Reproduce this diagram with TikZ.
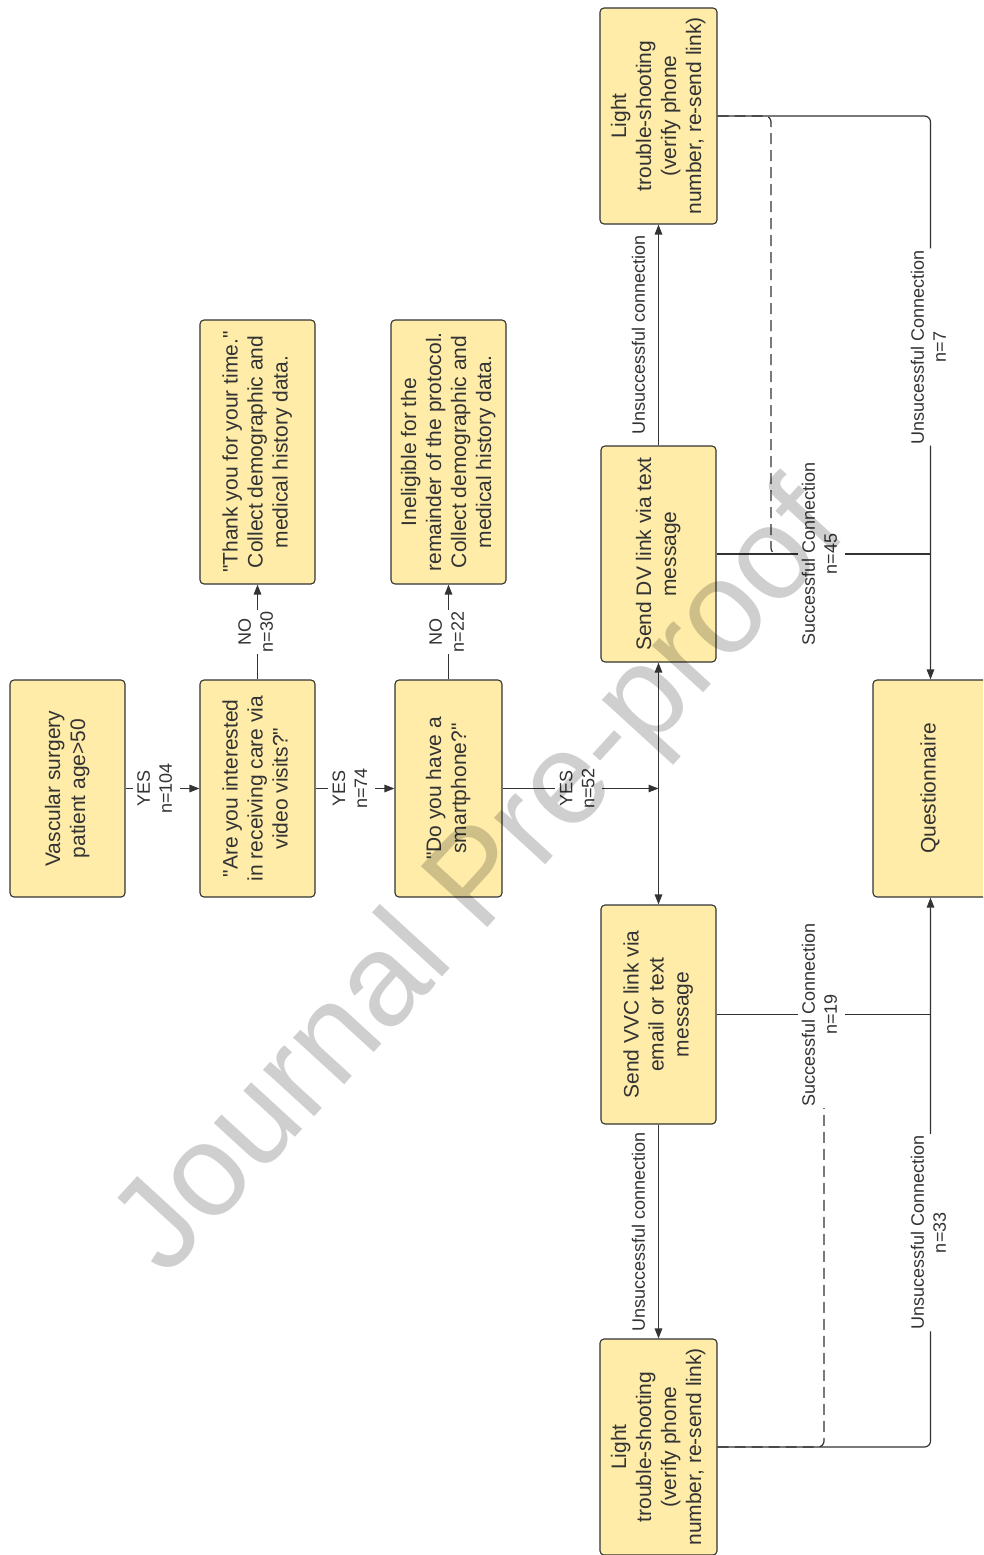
\documentclass[tikz,border=0pt]{standalone}
\usepackage{fontspec}
\setmainfont{Liberation Sans}[Ligatures=TeXOff]
\usetikzlibrary{arrows.meta,calc}
\definecolor{boxfill}{HTML}{FEECA8}
\definecolor{ink}{HTML}{333333}
\newcommand{\rottext}[1]{\rotatebox{90}{\begin{tabular}{@{}c@{}}#1\end{tabular}}}
\begin{document}
\begin{tikzpicture}[x=1pt,y=-1pt,
  box/.style={draw=ink, fill=boxfill, rounded corners=4pt, line width=1.1pt, inner sep=0pt,
    font=\fontsize{21}{25}\selectfont, text=ink},
  conn/.style={draw=ink, line width=1.2pt},
  arr/.style={-{Triangle[length=10pt,width=7.5pt]}},
  lab/.style={fill=white, inner sep=1.5pt, font=\fontsize{18}{22}\selectfont, text=ink},
  sidelab/.style={inner sep=1pt, font=\fontsize{18}{22}\selectfont, text=ink},
  dashline/.style={draw=ink, line width=1.2pt, dash pattern=on 11pt off 6pt},
  wm/.style={text=black, opacity=0.19, font=\fontsize{131}{155}\selectfont}]
\useasboundingbox (0,0) rectangle (983,1555);
\clip (0,0) rectangle (983,1555);
\fill[white] (0,0) rectangle (983,1555);

% boxes
\node[box, minimum width=115pt, minimum height=217pt] (b1) at (67.5,788.5) {\rottext{Vascular surgery\\patient age>50}};
\node[box, minimum width=115pt, minimum height=217pt] (b2) at (257.5,788.5) {\rottext{"Are you interested\\in receiving care via\\video visits?"}};
\node[box, minimum width=115pt, minimum height=264pt] (b3) at (257.5,452) {\rottext{"Thank you for your time."\\Collect demographic and\\medical history data.}};
\node[box, minimum width=115pt, minimum height=264pt] (b4) at (448.5,452) {\rottext{Ineligible for the\\remainder of the protocol.\\Collect demographic and\\medical history data.}};
\node[box, minimum width=107pt, minimum height=217pt] (b5) at (448.5,788.5) {\rottext{"Do you have a\\smartphone?"}};
\node[box, minimum width=117pt, minimum height=216pt] (t1) at (658.5,116) {\rottext{Light\\trouble-shooting\\(verify phone\\number, re-send link)}};
\node[box, minimum width=115pt, minimum height=216pt] (dv) at (658.5,554) {\rottext{Send DV link via text\\message}};
\node[box, minimum width=115pt, minimum height=219pt] (vvc) at (658.5,1014.5) {\rottext{Send VVC link via\\email or text\\message}};
\node[box, minimum width=117pt, minimum height=216pt] (t2) at (658.5,1447) {\rottext{Light\\trouble-shooting\\(verify phone\\number, re-send link)}};
\node[box, minimum width=115pt, minimum height=217pt] (q) at (930.5,788.5) {\rottext{Questionnaire}};

\coordinate (j) at (658.5,788.5);
\coordinate (dvq) at (930.5,554);
\coordinate (vvcq) at (930.5,1014.5);
\coordinate (dj) at (800,554);
\coordinate (vj) at (824,1014.5);

% dashed retry-success paths
\draw[dashline, rounded corners=6pt] (t1.east) -- (771,116) -- (771,554) -- (dj);
\draw[dashline, rounded corners=6pt] (t2.east) -- (824,1447) -- (vj);

% main flow
\draw[conn, arr] (b1) -- node[lab, pos=0.42] {\rottext{YES\\n=104}} (b2);
\draw[conn, arr] (b2) -- node[lab, pos=0.46] {\rottext{YES\\n=74}} (b5);
\draw[conn, arr] (b2) -- node[lab] {\rottext{NO\\n=30}} (b3);
\draw[conn, arr] (b5) -- node[lab] {\rottext{NO\\n=22}} (b4);
\draw[conn, arr] (b5.east |- j) -- node[lab, pos=0.49] {\rottext{YES\\n=52}} (j);
\draw[conn, arr] (j) -- (dv);
\draw[conn, arr] (j) -- (vvc);

\draw[conn, arr] (dv) -- node[sidelab, midway, xshift=-18pt] {\rottext{Unsuccessful connection}} (t1);
\draw[conn, arr] (vvc) -- node[sidelab, midway, xshift=-18pt] {\rottext{Unsuccessful connection}} (t2);

\draw[conn] (dv.east |- dvq) -- node[lab, pos=0.49] {\rottext{Successful Connection\\n=45}} (dvq);
\draw[conn] (vvc.east |- vvcq) -- node[lab, pos=0.49] {\rottext{Successful Connection\\n=19}} (vvcq);

\draw[conn, arr, rounded corners=6pt] (t1.east) -- (t1.east -| q.north) -- node[lab, pos=0.41] {\rottext{Unsucessful Connection\\n=7}} (q.north);
\draw[conn, arr, rounded corners=6pt] (t2.east) -- (t2.east -| q.south) -- node[lab, pos=0.39] {\rottext{Unsucessful Connection\\n=33}} (q.south);

% watermark
\node[wm, rotate=47.5] (wmark) at (483,883) {Journal Pre-proof};
\end{tikzpicture}
\end{document}
